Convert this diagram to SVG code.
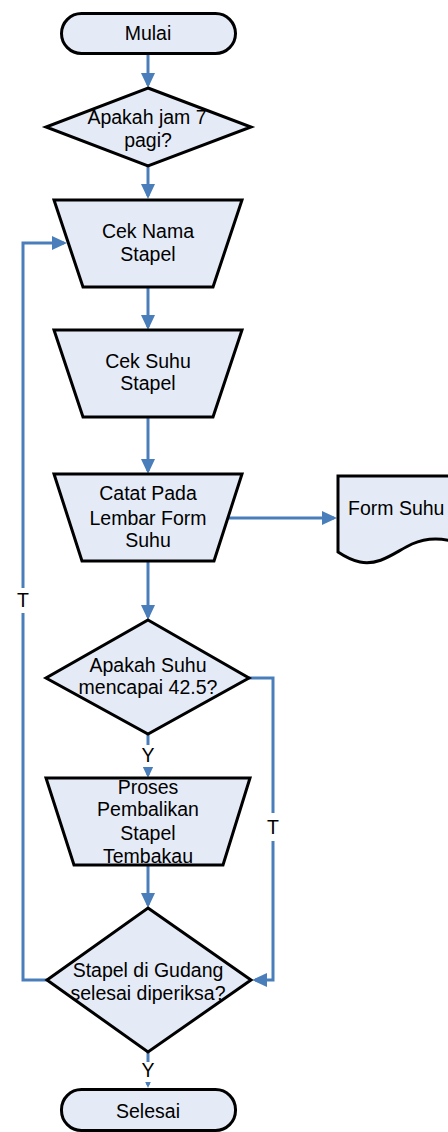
<svg xmlns="http://www.w3.org/2000/svg" width="448" height="1132" viewBox="0 0 448 1132">
<style>
.s{fill:#e5ebf6;stroke:#000;stroke-width:3;stroke-linejoin:miter}
.t{font-family:"Liberation Sans",Arial,sans-serif;font-size:19.5px;fill:#000;text-anchor:middle}
.c{fill:none;stroke:#4a7ebb;stroke-width:3}
.bg{fill:#fff}
</style>
<defs>
<marker id="ah" markerUnits="userSpaceOnUse" markerWidth="16" markerHeight="15" refX="12" refY="7" orient="auto">
<path d="M0,0 L15,7 L0,14 z" fill="#4a7ebb"/>
</marker>
</defs>
<g id="connectors">
<path class="c" d="M148,55 V85" marker-end="url(#ah)"/>
<path class="c" d="M148,166 V196" marker-end="url(#ah)"/>
<path class="c" d="M148,287 V327" marker-end="url(#ah)"/>
<path class="c" d="M148,417 V471" marker-end="url(#ah)"/>
<path class="c" d="M228,518 H334" marker-end="url(#ah)"/>
<path class="c" d="M148,561 V617" marker-end="url(#ah)"/>
<path class="c" d="M148,734 V775" marker-end="url(#ah)"/>
<path class="c" d="M148,865 V905" marker-end="url(#ah)"/>
<path class="c" d="M249,678 H273 V980 H255" marker-end="url(#ah)"/>
<path class="c" d="M47,980 H23 V243 H64" marker-end="url(#ah)"/>
<path class="c" d="M148,1052 V1085" marker-end="url(#ah)"/>
<rect class="bg" x="139" y="745" width="18" height="22"/>
<text class="t" x="148" y="762">Y</text>
<rect class="bg" x="264" y="813" width="18" height="28"/>
<text class="t" x="273" y="834">T</text>
<rect class="bg" x="14" y="588" width="18" height="25"/>
<text class="t" x="23" y="607">T</text>
<rect class="bg" x="139" y="1062" width="18" height="20"/>
<text class="t" x="148" y="1077">Y</text>
</g>
<g id="mulai">
<rect class="s" x="61.5" y="13.5" width="174" height="40" rx="20"/>
<text class="t" x="148" y="40">Mulai</text>
</g>
<g id="jam7">
<path class="s" d="M148,88 L251,127 L148,166 L46,127 Z"/>
<text class="t" x="147" y="124">Apakah jam 7</text>
<text class="t" x="148" y="147">pagi?</text>
</g>
<g id="ceknama">
<path class="s" d="M54,200 H242 L213,287 H83 Z"/>
<text class="t" x="148" y="238">Cek Nama</text>
<text class="t" x="148" y="261">Stapel</text>
</g>
<g id="ceksuhu">
<path class="s" d="M54,330 H242 L213,417 H83 Z"/>
<text class="t" x="148" y="368">Cek Suhu</text>
<text class="t" x="148" y="390">Stapel</text>
</g>
<g id="catat">
<path class="s" d="M54,474 H242 L214,561 H82 Z"/>
<text class="t" x="148" y="500">Catat Pada</text>
<text class="t" x="148" y="525">Lembar Form</text>
<text class="t" x="148" y="547">Suhu</text>
</g>
<g id="formsuhu">
<path class="s" d="M338,476 H470 V548 C450,538 430,536 412,544 C395,552 380,566 360,562 C350,560 344,556 338,552 Z"/>
<text class="t" x="348" y="515" style="text-anchor:start">Form Suhu</text>
</g>
<g id="suhu">
<path class="s" d="M148,620 L249,678 L148,734 L46,678 Z"/>
<text class="t" x="148" y="672">Apakah Suhu</text>
<text class="t" x="148" y="694">mencapai 42.5?</text>
</g>
<g id="pembalikan">
<path class="s" d="M46,778 H250 L223,865 H74 Z"/>
<text class="t" x="148" y="794">Proses</text>
<text class="t" x="148" y="816">Pembalikan</text>
<text class="t" x="148" y="840">Stapel</text>
<text class="t" x="148" y="863">Tembakau</text>
</g>
<g id="gudang">
<path class="s" d="M148,908 L251,980 L148,1052 L47,980 Z"/>
<text class="t" x="148" y="977">Stapel di Gudang</text>
<text class="t" x="148" y="1000">selesai diperiksa?</text>
</g>
<g id="selesai">
<rect class="s" x="61.5" y="1089.5" width="174" height="41" rx="20"/>
<text class="t" x="148" y="1118">Selesai</text>
</g>
</svg>
